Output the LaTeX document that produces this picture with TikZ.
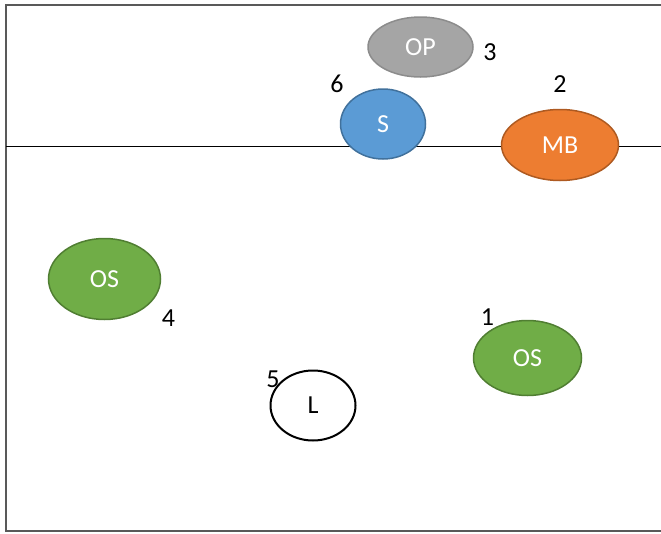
\documentclass[tikz,border=0pt]{standalone}
\usepackage{fontspec}
\setmainfont{Carlito}
\usepackage{tikz}
\usetikzlibrary{shapes.geometric}
\definecolor{opgray}{RGB}{165, 165, 165}
\definecolor{opedge}{RGB}{140, 140, 140}
\definecolor{sblue}{RGB}{91, 155, 213}
\definecolor{sedge}{RGB}{65, 113, 156}
\definecolor{mborange}{RGB}{237, 125, 49}
\definecolor{mbedge}{RGB}{174, 90, 33}
\definecolor{osgreen}{RGB}{112, 173, 71}
\definecolor{osedge}{RGB}{80, 126, 50}
\definecolor{frame}{RGB}{89, 89, 89}
\tikzset{
  blob/.style={ellipse, inner sep=0pt, line width=1.5pt, text=white,
    font=\fontsize{26}{30}\selectfont},
  num/.style={font=\fontsize{26}{30}\selectfont}
}

\begin{document}
\begin{tikzpicture}[x=1pt, y=-1pt]
  \useasboundingbox (0, 0) rectangle (661, 533);
  \draw [color=frame, line width=1.5pt] (661, 5) -- (6, 5) -- (6, 531) -- (661, 531);
  \draw [color=black, line width=1pt] (6, 146) -- (661, 146);

  \node [blob, fill=opgray, draw=opedge, minimum width=105pt, minimum height=60pt] (op) at (420.5, 47) { OP };
  \node [blob, fill=sblue, draw=sedge, minimum width=85pt, minimum height=70pt] (s) at (383, 124) { S };
  \node [blob, fill=mborange, draw=mbedge, minimum width=117pt, minimum height=71pt] (mb) at (560, 145) { MB };
  \node [blob, fill=osgreen, draw=osedge, minimum width=112pt, minimum height=81pt] (osleft) at (104.5, 279) { OS };
  \node [blob, fill=osgreen, draw=osedge, minimum width=108pt, minimum height=75pt] (osright) at (527.5, 358) { OS };
  \node [blob, fill=white, draw=black, text=black, line width=2pt, minimum width=85pt, minimum height=70pt] (l) at (313, 405.5) { L };

  \node [num] (n3) at (490, 52.5) { 3 };
  \node [num] (n6) at (337, 84) { 6 };
  \node [num] (n2) at (560, 84) { 2 };
  \node [num] (n4) at (168.5, 318) { 4 };
  \node [num] (n1) at (487.5, 317) { 1 };
  \node [num] (n5) at (273, 379) { 5 };
\end{tikzpicture}
\end{document}
